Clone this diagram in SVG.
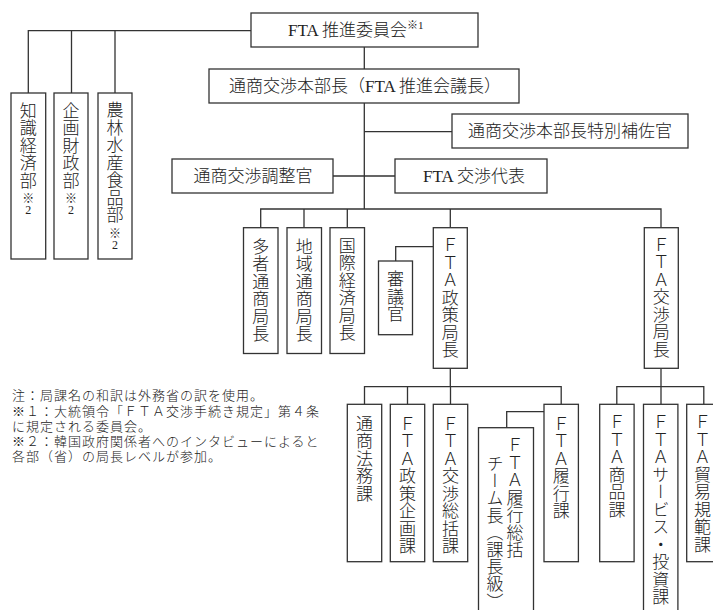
<svg xmlns="http://www.w3.org/2000/svg" width="713" height="610" viewBox="0 0 713 610">
<style>
.b{fill:#fff;stroke:#333;stroke-width:1.3}
.c{fill:none;stroke:#333;stroke-width:1.3}
.h{font-family:"Liberation Serif","Noto Sans CJK JP",serif;font-size:17px;font-weight:300;fill:#222}
.v{font-family:"Noto Sans CJK JP","Liberation Serif",sans-serif;font-size:17px;font-weight:300;fill:#222;writing-mode:vertical-rl;letter-spacing:0.5px;text-anchor:start}
.s{font-family:"Liberation Serif","Noto Sans CJK JP",serif;font-size:12px;fill:#222;text-anchor:middle}
.n{font-family:"Noto Sans CJK JP",sans-serif;font-size:13px;font-weight:300;fill:#222;letter-spacing:1px}
</style>
<rect width="713" height="610" fill="#fff"/>
<g id="connectors">
<path class="c" d="M28.3,93V30.7H251M71.5,30.7V93M115,30.7V93"/>
<path class="c" d="M364.3,47V69M364.3,103V209M364.3,131.7H452M333,176H395"/>
<path class="c" d="M260.7,227.7V209H661V227.7M304,209V227.7M347.3,209V227.7M450.3,209V227.7"/>
<path class="c" d="M433.3,246.7H395.7V261"/>
<path class="c" d="M450.3,368.3V386.7M364.5,404.3V386.7H561.2V404.3M407.5,386.7V404.3M450.5,386.7V404.3"/>
<path class="c" d="M544,411.7H506.7V427.7"/>
<path class="c" d="M661,368.3V386.7M616.8,404.3V386.7H703.8V404.3M661,386.7V404.3"/>
</g>
<g id="committee"><rect class="b" x="251" y="13" width="227" height="34"/><text class="h" x="288" y="36">FTA 推進委員会<tspan font-size="11" dy="-7">※1</tspan></text></g>
<g id="honbucho"><rect class="b" x="209" y="69" width="310" height="34"/><text class="h" x="365" y="92" text-anchor="middle">通商交渉本部長（FTA 推進会議長）</text></g>
<g id="tokubetsu"><rect class="b" x="452" y="114" width="236" height="34"/><text class="h" x="570" y="137" text-anchor="middle">通商交渉本部長特別補佐官</text></g>
<g id="chousei"><rect class="b" x="172" y="159" width="161" height="34"/><text class="h" x="253" y="182" text-anchor="middle">通商交渉調整官</text></g>
<g id="daihyo"><rect class="b" x="395" y="159" width="152" height="34"/><text class="h" x="474" y="182" text-anchor="middle">FTA 交渉代表</text></g>
<g id="chishiki"><rect class="b" x="11" y="93" width="34.7" height="166"/><text class="v" x="28.3" y="102">知識経済部</text><text class="s"><tspan x="28.3" y="202.5">※</tspan><tspan x="28.3" y="214">2</tspan></text></g>
<g id="kikaku"><rect class="b" x="54" y="93" width="34" height="166"/><text class="v" x="71" y="102">企画財政部</text><text class="s"><tspan x="71" y="202.5">※</tspan><tspan x="71" y="214">2</tspan></text></g>
<g id="nourin"><rect class="b" x="98" y="93" width="34" height="166"/><text class="v" x="115" y="101.5">農林水産食品部</text><text class="s"><tspan x="115" y="237.5">※</tspan><tspan x="115" y="249">2</tspan></text></g>
<g id="tasha"><rect class="b" x="243.5" y="227.7" width="34.5" height="125.8"/><text class="v" x="260.7" y="238">多者通商局長</text></g>
<g id="chiiki"><rect class="b" x="287" y="227.7" width="34.5" height="125.8"/><text class="v" x="304.2" y="238">地域通商局長</text></g>
<g id="kokusai"><rect class="b" x="330" y="227.7" width="34.5" height="125.8"/><text class="v" x="347.2" y="237">国際経済局長</text></g>
<g id="shingikan"><rect class="b" x="378.5" y="261" width="34" height="73.7"/><text class="v" x="395.5" y="270.5">審議官</text></g>
<g id="seisaku"><rect class="b" x="433.3" y="227.7" width="34" height="140.6"/><text class="v" x="450.3" y="236.5">ＦＴＡ政策局長</text></g>
<g id="koushou"><rect class="b" x="644.3" y="227.7" width="34" height="140.6"/><text class="v" x="661.3" y="236">ＦＴＡ交渉局長</text></g>
<g id="houmu"><rect class="b" x="347.3" y="404.3" width="34.4" height="157.4"/><text class="v" x="364.5" y="415">通商法務課</text></g>
<g id="kikakuka"><rect class="b" x="390.3" y="404.3" width="34.4" height="157.4"/><text class="v" x="407.5" y="415">ＦＴＡ政策企画課</text></g>
<g id="soukatsu"><rect class="b" x="433.3" y="404.3" width="34.4" height="157.4"/><text class="v" x="450.5" y="415">ＦＴＡ交渉総括課</text></g>
<g id="team"><rect class="b" x="478.5" y="427.7" width="55" height="195"/><text class="v" x="515" y="436.5">ＦＴＡ履行総括</text><text class="v" x="495" y="455" style="letter-spacing:0.2px">チーム長（課長級）</text></g>
<g id="rikou"><rect class="b" x="544" y="404.3" width="34.4" height="157.4"/><text class="v" x="561.2" y="415">ＦＴＡ履行課</text></g>
<g id="shohin"><rect class="b" x="599.7" y="404.3" width="34.4" height="157.4"/><text class="v" x="616.9" y="413.5">ＦＴＡ商品課</text></g>
<g id="service"><rect class="b" x="643.5" y="404.3" width="34.4" height="215"/><text class="v" x="660.7" y="413.5">ＦＴＡサービス・投資課</text></g>
<g id="boeki"><rect class="b" x="686.7" y="404.3" width="34.4" height="157.4"/><text class="v" x="702.5" y="413.5">ＦＴＡ貿易規範課</text></g>
<g id="notes">
<text class="n"><tspan x="12" y="400">注：局課名の和訳は外務省の訳を使用。</tspan><tspan x="12" y="415.5">※１：大統領令「ＦＴＡ交渉手続き規定」第４条</tspan><tspan x="12" y="431">に規定される委員会。</tspan><tspan x="12" y="446">※２：韓国政府関係者へのインタビューによると</tspan><tspan x="12" y="461">各部（省）の局長レベルが参加。</tspan></text>
</g>
</svg>
